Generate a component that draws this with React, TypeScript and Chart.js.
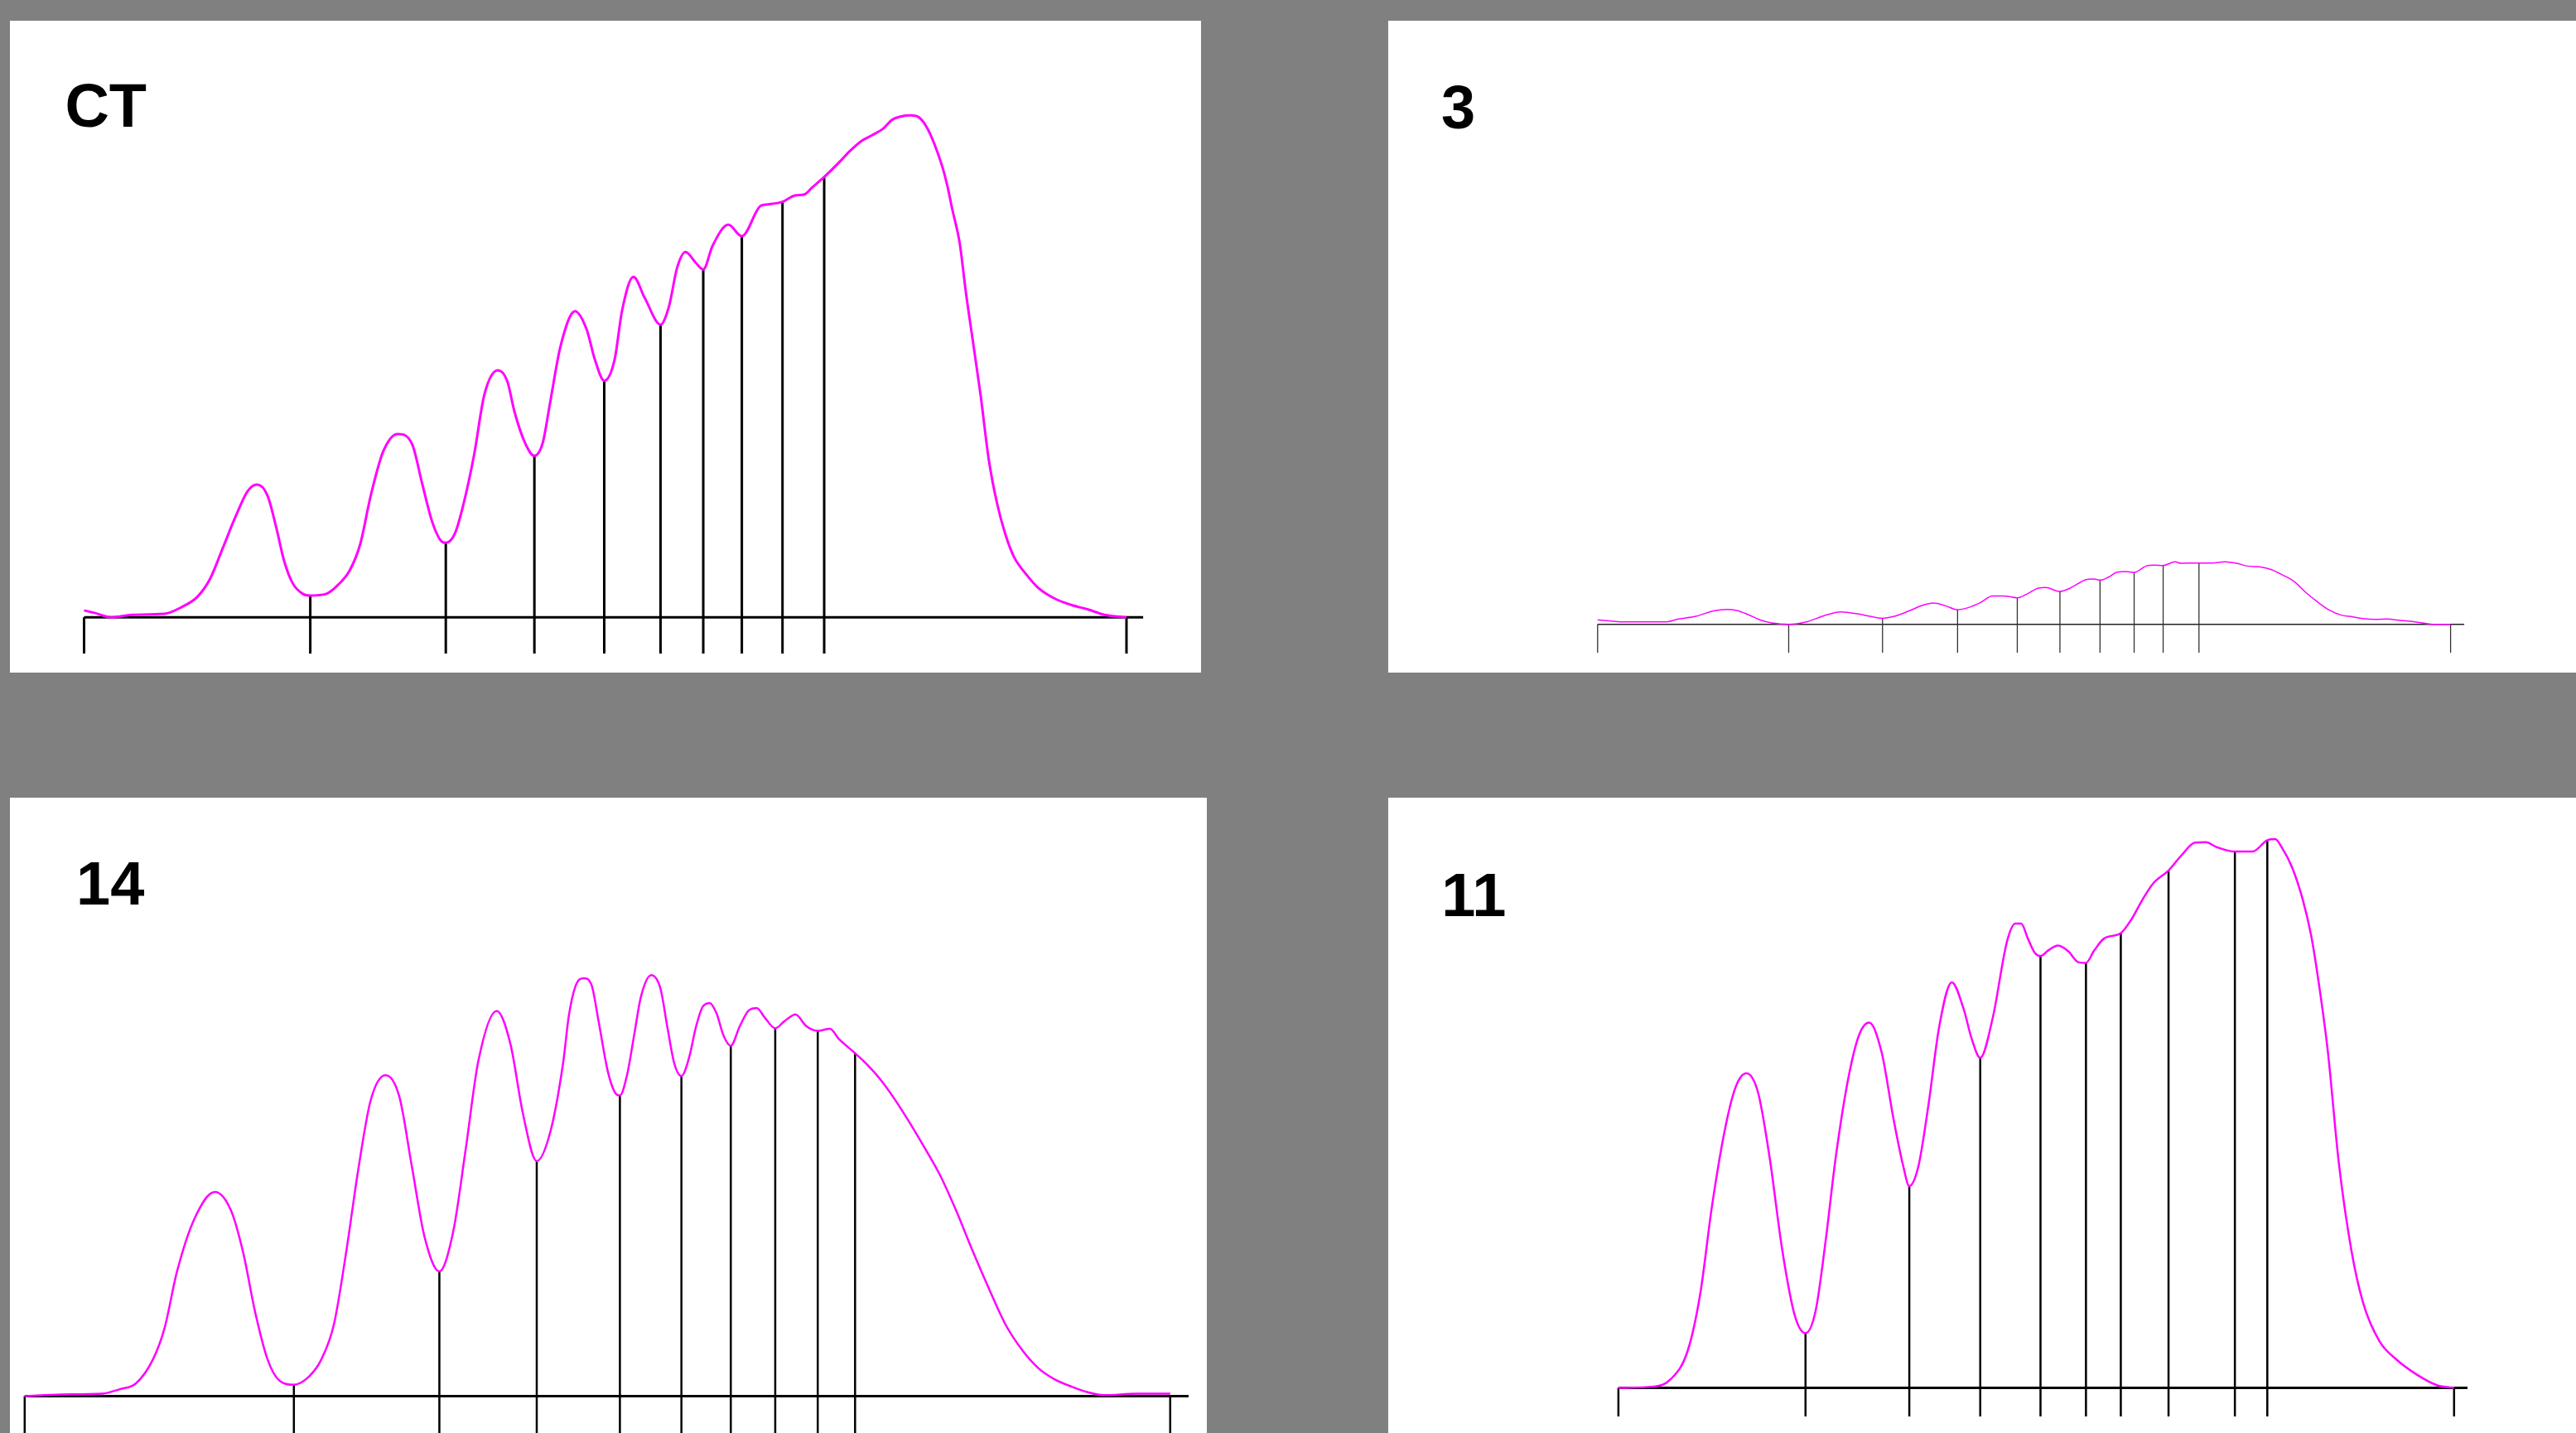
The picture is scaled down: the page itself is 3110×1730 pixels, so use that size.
import React, { useEffect, useRef } from "react";
import { Chart, registerables } from "chart.js";

Chart.register(...registerables);

// ---------------- DATA (relative migration 0-100 between end ticks, intensity units) ----------------
const CT_PROFILE: number[][] = [
  [0, 1.4], [1.0, 0.9], [2.6, 0], [4.6, 0.5], [7.7, 0.7], [9.3, 2.0], [10.9, 4.2], [12.1, 7.8],
  [13.3, 13.9], [14.5, 20.1], [15.7, 25.4], [16.6, 26.7], [17.6, 24.5], [18.4, 18.4], [19.2, 11.3],
  [20.0, 6.9], [21.0, 4.7], [21.7, 4.4], [23.2, 4.7], [24.3, 6.4], [25.5, 9.5], [26.5, 14.8],
  [27.5, 24.5], [28.7, 33.4], [30.1, 36.9], [31.5, 34.7], [32.4, 27.2], [33.4, 19.2], [34.2, 15.5],
  [34.7, 15.0], [35.6, 17.0], [36.4, 22.8], [37.4, 32.5], [38.4, 44.8], [39.7, 49.7], [40.6, 47.5],
  [41.3, 41.3], [42.3, 35.1], [43.2, 32.5], [44.0, 35.1], [44.7, 43.1], [45.7, 54.5], [47.1, 61.6],
  [48.2, 58.0], [49.0, 51.9], [49.9, 47.6], [50.9, 51.9], [51.6, 61.6], [52.7, 68.5], [53.8, 64.2],
  [55.3, 58.9], [56.1, 62.5], [56.9, 70.4], [57.7, 73.5], [58.7, 71.3], [59.4, 70.0], [60.3, 74.8],
  [61.8, 79.0], [63.1, 76.7], [64.9, 82.8], [65.6, 83.1], [67.0, 83.6], [68.2, 84.9], [69.1, 85.1],
  [69.8, 86.4], [71.0, 88.6], [72.5, 91.7], [73.5, 93.9], [74.6, 95.9], [75.6, 97.0], [76.7, 98.4],
  [77.5, 100.1], [78.4, 100.8], [79.3, 101.0], [80.1, 100.6], [80.9, 98.4], [81.6, 95.1], [82.3, 90.9],
  [82.8, 87.0], [83.3, 82.0], [84.0, 75.3], [84.6, 65.3], [85.2, 56.5], [86.0, 44.8], [86.8, 31.6],
  [87.6, 22.8], [88.4, 16.6], [89.2, 12.2], [90.4, 8.6], [91.5, 6.0], [93.1, 3.8], [94.7, 2.5],
  [96.3, 1.6], [97.9, 0.5], [100, 0],
];
const CT_MARKS = [0, 21.7, 34.7, 43.2, 49.9, 55.3, 59.4, 63.1, 67.0, 71.0, 100];
const CT_MARK_TOPS = [0, 4.4, 15.0, 32.5, 47.6, 58.9, 70.0, 76.7, 83.6, 88.6, 0];

const S3_PROFILE: number[][] = [
  [0, 0.89], [1.3, 0.72], [2.7, 0.5], [8.1, 0.5], [9.5, 1.06], [11.5, 1.6], [13.6, 2.7], [15.1, 3.0],
  [16.3, 2.8], [17.6, 2.0], [19.0, 0.9], [20.4, 0.28], [22.4, 0], [24.5, 0.5], [26.5, 1.7], [28.5, 2.5],
  [30.6, 2.06], [31.9, 1.6], [33.4, 1.22], [34.7, 1.56], [36.7, 2.83], [38.1, 3.83], [39.4, 4.28],
  [40.8, 3.72], [42.2, 2.94], [43.5, 3.39], [44.9, 4.39], [46.3, 5.72], [47.6, 5.72], [49.2, 5.33],
  [50.3, 6.06], [51.7, 7.28], [52.5, 7.39], [54.2, 6.61], [55.4, 7.28], [57.2, 8.94], [58.2, 9.11],
  [58.9, 8.89], [59.9, 9.5], [60.9, 10.5], [61.9, 10.61], [62.9, 10.44], [64.3, 11.72], [65.3, 11.89],
  [66.3, 11.83], [67.7, 12.56], [68.4, 12.28], [70.5, 12.33], [72.1, 12.33], [73.5, 12.56], [74.9, 12.28],
  [76.2, 11.72], [77.6, 11.56], [79.0, 11.0], [80.3, 9.94], [81.7, 8.56], [83.0, 6.44], [84.4, 4.5],
  [85.8, 2.83], [87.1, 1.89], [88.5, 1.5], [89.9, 1.11], [91.2, 1.0], [92.6, 1.06], [93.9, 0.83],
  [95.3, 0.61], [96.7, 0.28], [98.0, 0], [100, 0],
];
const S3_MARKS = [0, 22.4, 33.4, 42.2, 49.2, 54.2, 58.9, 62.9, 66.3, 70.5, 100];
const S3_MARK_TOPS = [0, 0, 1.22, 2.94, 5.33, 6.61, 8.89, 10.44, 11.83, 12.33, 0];

const S14_PROFILE: number[][] = [
  [0, 0], [3.2, 0.35], [6.8, 0.5], [8.3, 1.4], [9.7, 2.55], [11.2, 7.4], [12.2, 13.6], [13.3, 25.1],
  [14.8, 35.6], [16.6, 41.1], [18.0, 37.4], [19.1, 28.6], [20.1, 17.1], [21.2, 7.4], [22.3, 3.0],
  [23.5, 2.3], [24.8, 3.9], [25.9, 7.4], [27.0, 14.5], [28.1, 29.5], [29.1, 45.3], [30.2, 59.5],
  [31.5, 64.6], [32.7, 60.3], [33.8, 46.2], [34.9, 32.1], [36.2, 25.1], [37.4, 33.0], [38.5, 49.7],
  [39.6, 67.4], [41.2, 77.5], [42.4, 70.9], [43.5, 56.8], [44.7, 47.3], [45.9, 53.3], [47.0, 67.0],
  [47.5, 76.5], [48.1, 82.6], [48.8, 84.1], [49.5, 82.6], [50.1, 75.4], [50.9, 65.4], [51.5, 61.2],
  [51.96, 60.5], [52.6, 64.8], [53.2, 72.6], [53.8, 80.4], [54.7, 84.7], [55.5, 82.0], [56.1, 74.3],
  [56.7, 67.0], [57.33, 64.4], [58.0, 68.1], [58.6, 74.3], [59.2, 78.4], [59.8, 79.1], [60.4, 77.0],
  [61.0, 72.6], [61.64, 70.5], [62.4, 74.3], [63.2, 77.6], [63.9, 78.1], [64.6, 76.2], [65.52, 74.0],
  [66.3, 75.4], [67.3, 76.8], [68.2, 74.5], [69.23, 73.5], [70.3, 73.9], [71.1, 71.8], [72.49, 69.0],
  [73.5, 66.8], [74.7, 63.7], [75.9, 59.9], [77.1, 55.6], [78.4, 50.6], [79.9, 44.5], [81.3, 37.4],
  [82.7, 29.5], [84.2, 21.5], [85.6, 14.5], [87.1, 9.2], [88.5, 5.6], [89.9, 3.4], [91.4, 1.9],
  [92.8, 0.8], [94.2, 0.2], [97.1, 0.5], [100, 0.5],
];
const S14_MARKS = [0, 23.5, 36.2, 44.7, 51.96, 57.33, 61.64, 65.52, 69.23, 72.49, 100];
const S14_MARK_TOPS = [0, 2.3, 25.1, 47.3, 60.5, 64.4, 70.5, 74.0, 73.5, 69.0, 0];

const S11_PROFILE: number[][] = [
  [0, 0], [4.3, 0.27], [6.3, 1.8], [8.3, 7.5], [9.8, 19.0], [11.2, 36.6], [12.7, 51.6], [14.0, 60.4],
  [15.3, 63.3], [16.7, 59.5], [18.1, 46.3], [19.6, 27.8], [21.1, 14.6], [22.39, 11.0], [23.6, 15.5],
  [24.8, 29.6], [26.0, 46.3], [27.5, 62.2], [28.8, 71.0], [30.0, 73.5], [31.5, 67.5], [32.9, 54.3],
  [34.1, 44.5], [34.81, 40.6], [35.9, 44.6], [37.1, 56.9], [38.4, 72.8], [39.9, 81.6], [41.3, 76.3],
  [42.3, 70.1], [43.3, 66.4], [44.8, 74.5], [46.5, 89.8], [47.5, 93.4], [48.2, 93.4], [49.0, 90.4],
  [49.8, 87.6], [50.51, 86.9], [51.5, 88.1], [52.6, 89.0], [53.8, 87.9], [55.1, 85.6], [55.95, 85.5],
  [56.9, 87.9], [58.1, 90.4], [60.12, 91.5], [61.4, 94.3], [62.7, 98.2], [64.0, 101.5], [65.83, 104.1],
  [67.3, 107.0], [69.0, 109.7], [70.3, 109.8], [71.6, 108.8], [73.77, 107.9], [75.9, 107.9],
  [77.65, 110.2], [78.6, 110.4], [79.4, 108.7], [80.6, 104.8], [81.9, 98.2], [82.9, 91.0], [83.9, 80.4],
  [84.9, 67.6], [86.2, 45.4], [87.7, 27.8], [89.1, 17.2], [91.1, 9.3], [93.1, 5.7], [95.6, 2.6],
  [98.0, 0.5], [100, 0],
];
const S11_MARKS = [0, 22.39, 34.81, 43.3, 50.51, 55.95, 60.12, 65.83, 73.77, 77.65, 100];
const S11_MARK_TOPS = [0, 11.0, 40.6, 66.4, 86.9, 85.5, 91.5, 104.1, 107.9, 110.2, 0];

const AXIS_END = 101.6;

// ---------------- LAYOUT / STYLE ----------------
const PX_PER_UNIT = 6;
const MAGENTA = "#ff00ff";
const LABEL_FONT = 'bold 74px "Liberation Sans", Arial, sans-serif';

type PanelCfg = {
  label: string;
  profile: number[][];
  marks: number[];
  tops: number[];
  rect: [number, number, number, number];
  firstTick: number;
  lastTick: number;
  axisY: number;
  tickDepth: number;
  labelPos: [number, number];
  curveW: number;
  markW: number;
  axisW: number;
  markColor: string;
  axisColor: string;
};

const PANELS: PanelCfg[] = [
  {
    label: "CT", profile: CT_PROFILE, marks: CT_MARKS, tops: CT_MARK_TOPS,
    rect: [12, 25, 1438, 787], firstTick: 101.5, lastTick: 1360, axisY: 745.3, tickDepth: 43.7,
    labelPos: [78.4, 152.7], curveW: 3, markW: 3, axisW: 3, markColor: "#000", axisColor: "#000",
  },
  {
    label: "3", profile: S3_PROFILE, marks: S3_MARKS, tops: S3_MARK_TOPS,
    rect: [1676, 25, 1434, 787], firstTick: 1928.8, lastTick: 2958.6, axisY: 753.7, tickDepth: 34.3,
    labelPos: [1740, 154.5], curveW: 1.5, markW: 1.3, axisW: 1.5, markColor: "#333", axisColor: "#222",
  },
  {
    label: "14", profile: S14_PROFILE, marks: S14_MARKS, tops: S14_MARK_TOPS,
    rect: [12, 963, 1445, 767], firstTick: 29.8, lastTick: 1412.8, axisY: 1685.5, tickDepth: 50,
    labelPos: [92, 1091.6], curveW: 2.5, markW: 2.5, axisW: 3, markColor: "#000", axisColor: "#000",
  },
  {
    label: "11", profile: S11_PROFILE, marks: S11_MARKS, tops: S11_MARK_TOPS,
    rect: [1676, 963, 1434, 767], firstTick: 1953.9, lastTick: 2962.8, axisY: 1675.5, tickDepth: 34.5,
    labelPos: [1740.3, 1106.4], curveW: 2.5, markW: 2.5, axisW: 3, markColor: "#000", axisColor: "#000",
  },
];

const labelPlugin = {
  id: "panelLabel",
  afterDraw(chart: any, _args: any, opts: any) {
    const ctx = chart.ctx;
    ctx.save();
    ctx.font = opts.font;
    ctx.fillStyle = opts.color;
    ctx.textAlign = "left";
    ctx.textBaseline = "alphabetic";
    ctx.fillText(opts.text, opts.x, opts.y);
    ctx.restore();
  },
};

function Panel({ cfg }: { cfg: PanelCfg }) {
  const ref = useRef<HTMLCanvasElement>(null);
  const [left, top, W, H] = cfg.rect;

  useEffect(() => {
    if (!ref.current) return;
    const x0 = cfg.firstTick - left;
    const pxPerX = (cfg.lastTick - cfg.firstTick) / 100;
    const axis = cfg.axisY - top;
    const xMin = -x0 / pxPerX;
    const xMax = (W - x0) / pxPerX;
    const yMax = axis / PX_PER_UNIT;
    const yMin = -(H - axis) / PX_PER_UNIT;
    const depth = -cfg.tickDepth / PX_PER_UNIT;

    const datasets: any[] = [];
    datasets.push({
      data: cfg.profile.map(([x, y]) => ({ x, y })),
      borderColor: MAGENTA,
      borderWidth: cfg.curveW,
      cubicInterpolationMode: "monotone",
      pointRadius: 0,
      fill: false,
      order: 0,
    });
    datasets.push({
      data: [{ x: 0, y: 0 }, { x: AXIS_END, y: 0 }],
      borderColor: cfg.axisColor,
      borderWidth: cfg.axisW,
      pointRadius: 0,
      tension: 0,
      fill: false,
      order: 2,
    });
    cfg.marks.forEach((m, i) => {
      datasets.push({
        data: [{ x: m, y: cfg.tops[i] }, { x: m, y: depth }],
        borderColor: cfg.markColor,
        borderWidth: cfg.markW,
        borderCapStyle: "butt",
        pointRadius: 0,
        tension: 0,
        fill: false,
        order: 1,
      });
    });

    const chart = new Chart(ref.current, {
      type: "line",
      data: { datasets },
      options: {
        animation: false,
        responsive: false,
        maintainAspectRatio: false,
        devicePixelRatio: 1,
        events: [],
        layout: { padding: 0 },
        plugins: {
          legend: { display: false },
          tooltip: { enabled: false },
          title: { display: false },
          panelLabel: {
            text: cfg.label,
            x: cfg.labelPos[0] - left,
            y: cfg.labelPos[1] - top,
            font: LABEL_FONT,
            color: "#000",
          },
        } as any,
        scales: {
          x: { type: "linear", display: false, min: xMin, max: xMax, bounds: "data" },
          y: { type: "linear", display: false, min: yMin, max: yMax, bounds: "data" },
        },
      },
      plugins: [labelPlugin],
    } as any);
    return () => chart.destroy();
  }, []);

  return (
    <div style={{ position: "absolute", left, top, width: W, height: H, background: "#ffffff" }}>
      <canvas ref={ref} width={W} height={H} style={{ display: "block", width: W, height: H }} />
    </div>
  );
}

export default function App() {
  return (
    <div
      style={{
        position: "absolute",
        left: 0,
        top: 0,
        width: 3110,
        height: 1730,
        background: "#808080",
        overflow: "hidden",
      }}
    >
      {PANELS.map((p) => (
        <Panel key={p.label} cfg={p} />
      ))}
    </div>
  );
}
